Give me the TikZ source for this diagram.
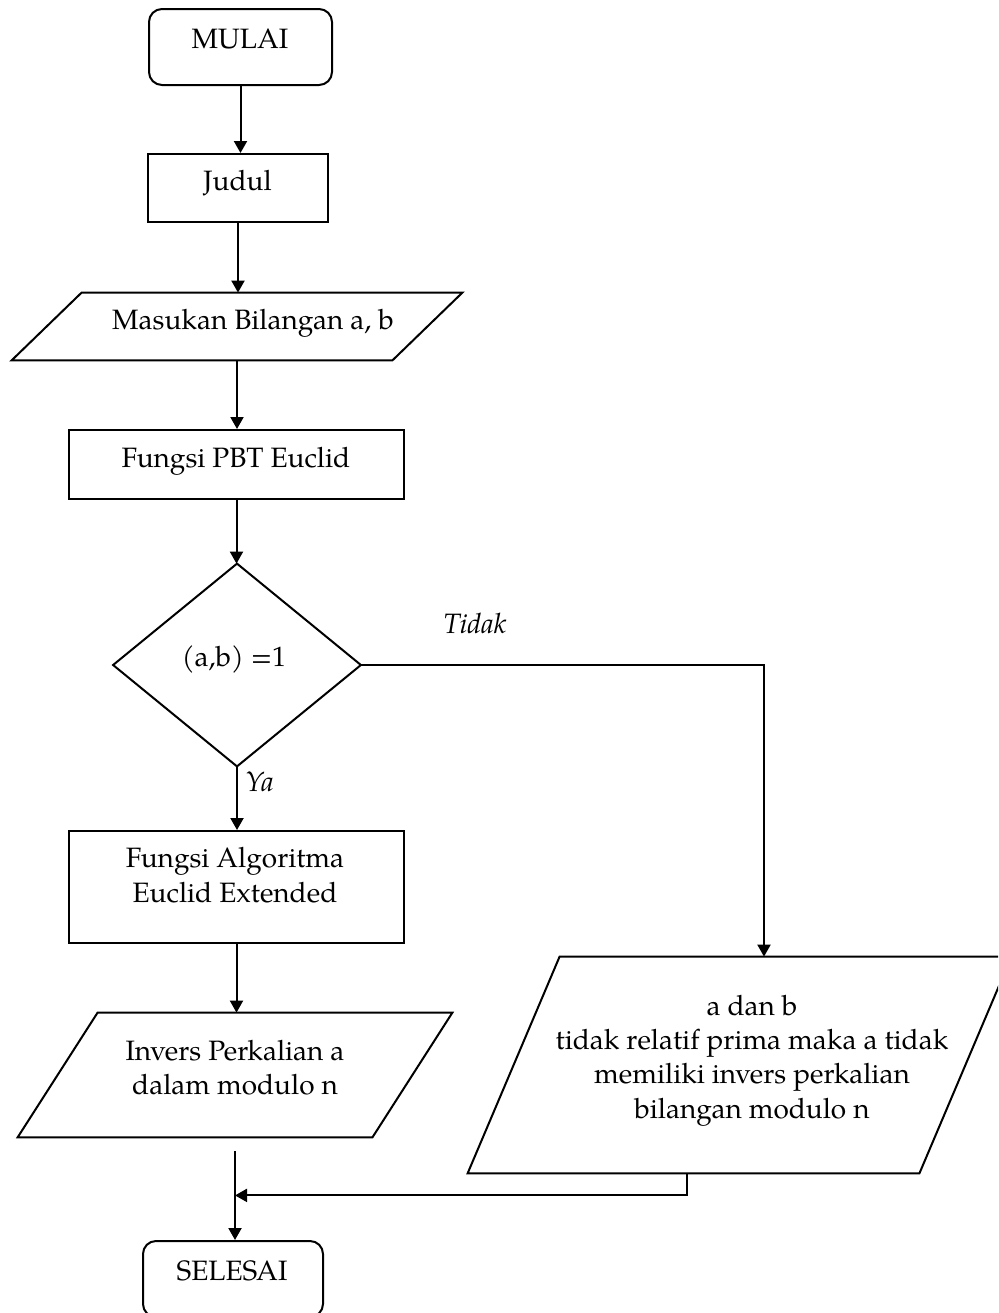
\documentclass[tikz,border=0pt]{standalone}
\usepackage{fontspec}
\setmainfont{TeX Gyre Pagella}
\usetikzlibrary{arrows.meta,calc}
\begin{document}
\begin{tikzpicture}[x=0.5pt,y=-0.5pt,
  box/.style={draw, line width=1pt, rectangle, inner sep=0pt},
  term/.style={box, rounded corners=6.5pt},
  frame/.style={rectangle, inner sep=0pt},
  txt/.style={inner sep=0pt, font=\fontsize{14}{17}\selectfont, anchor=base},
  arr/.style={line width=1pt, -{Triangle[length=6pt,width=6.5pt]}},
  ln/.style={line width=1pt}
]
\useasboundingbox (0,0) rectangle (998,1313);
\clip (0,0) rectangle (998,1313);

% shapes
\node[term, minimum width=91.5pt, minimum height=38pt] (start) at (240.5,47) {};
\node[box, minimum width=90pt, minimum height=34pt] (judul) at (238,188) {};
\node[frame, minimum width=225pt, minimum height=33.5pt] (inp) at (237,326.5) {};
\draw[ln] (inp.south west) -- ($(inp.north west)+(70,0)$) -- (inp.north east) -- ($(inp.south east)+(-70,0)$) -- cycle;
\node[box, minimum width=167.5pt, minimum height=34.5pt] (pbt) at (236.5,464.5) {};
\node[frame, minimum width=123.5pt, minimum height=101pt] (dec) at (237,665) {};
\draw[ln] (dec.north) -- (dec.east) -- (dec.south) -- (dec.west) -- cycle;
\node[box, minimum width=167.5pt, minimum height=56pt] (alg) at (236.5,887) {};
\node[frame, minimum width=217pt, minimum height=62pt] (inv) at (235,1075) {};
\draw[ln] (inv.south west) -- ($(inv.north west)+(80,0)$) -- (inv.north east) -- ($(inv.south east)+(-80,0)$) -- cycle;
\node[frame, minimum width=271.5pt, minimum height=108pt] (rio) at (739.5,1065) {};
\draw[ln] (rio.south west) -- ($(rio.north west)+(92,0)$) -- (rio.north east) -- ($(rio.south east)+(-92,0)$) -- cycle;
\node[term, minimum width=90pt, minimum height=38pt] (stop) at (233,1279) {};

% texts
\node[txt] (tstart) at (240,48) {MULAI};
\node[txt] (tjudul) at (237.5,190) {Judul};
\node[txt] (tinp) at (253,329) {Masukan Bilangan a, b};
\node[txt] (tpbt) at (236,467) {Fungsi PBT Euclid};
\node[txt] (tdec) at (234,666) {(a,b) =1};
\node[txt] (ttidak) at (475,633) {\itshape Tidak};
\node[txt, anchor=base west] (tya) at (245,791) {\itshape Ya};
\node[txt] (talg1) at (235,867) {Fungsi Algoritma};
\node[txt] (talg2) at (235,902) {Euclid Extended};
\node[txt] (tinv1) at (235,1060) {Invers Perkalian a};
\node[txt] (tinv2) at (235,1094) {dalam modulo n};
\node[txt] (trio1) at (752,1015) {a dan b};
\node[txt] (trio2) at (752,1049) {tidak relatif prima maka a tidak};
\node[txt] (trio3) at (752,1083) {memiliki invers perkalian};
\node[txt] (trio4) at (752,1118) {bilangan modulo n};
\node[txt] (tstop) at (232,1280) {SELESAI};

% connectors
\draw[arr] (start.south) -- (start.south |- judul.north);
\draw[arr] (judul.south) -- (judul.south |- inp.north);
\draw[arr] (inp.south) -- (inp.south |- pbt.north);
\draw[arr] (pbt.south) -- (pbt.south |- dec.north);
\draw[arr] (dec.south) -- (dec.south |- alg.north);
\draw[arr] (alg.south) -- (alg.south |- inv.north);
\coordinate (tin) at ($(rio.north)+(24.5,0)$);
\draw[arr] (dec.east) -| (tin);
\coordinate (invout) at ($(inv.south)+(0,14)$);
\draw[arr] (invout) -- (invout |- stop.north);
\coordinate (join) at ($(inv.south)+(0,58)$);
\draw[arr] ($(rio.south)+(-52.5,0)$) |- (join);
\end{tikzpicture}
\end{document}
